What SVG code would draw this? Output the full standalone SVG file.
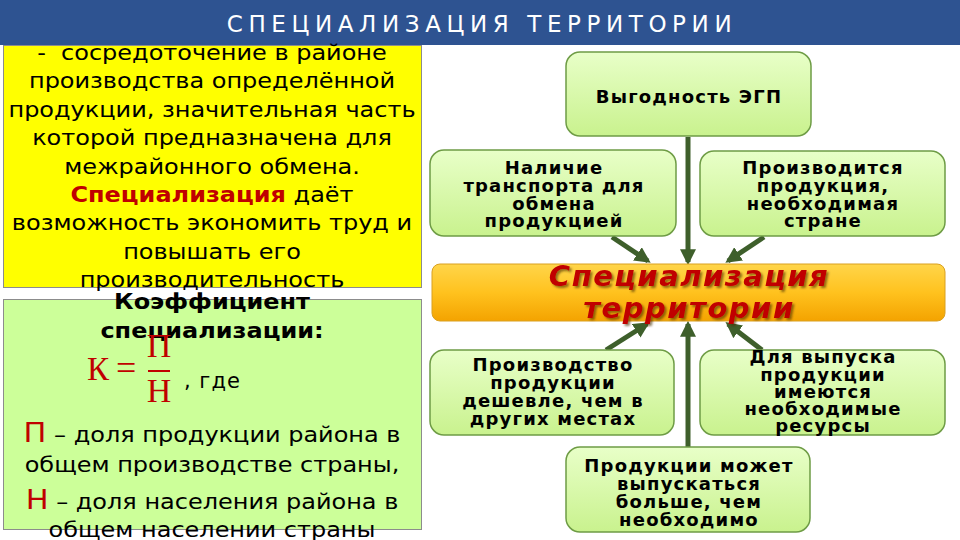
<svg xmlns="http://www.w3.org/2000/svg" width="960" height="540" viewBox="0 0 960 540">
<defs>
<linearGradient id="gBox" x1="0" y1="0" x2="0" y2="1">
<stop offset="0" stop-color="#E8FFC8"/>
<stop offset="1" stop-color="#C9F28E"/>
</linearGradient>
<linearGradient id="gBar" x1="0" y1="0" x2="0" y2="1">
<stop offset="0" stop-color="#FFD54A"/>
<stop offset="0.5" stop-color="#FFC21E"/>
<stop offset="1" stop-color="#F4A300"/>
</linearGradient>
<marker id="ah" viewBox="0 0 10 10" refX="8" refY="5" markerWidth="3.2" markerHeight="3.2" orient="auto" markerUnits="strokeWidth">
<path d="M0,0 L10,5 L0,10 z" fill="#3E5F2B"/>
</marker>
<filter id="sh" x="-5%" y="-20%" width="110%" height="150%">
<feDropShadow dx="2" dy="2" stdDeviation="0.8" flood-color="#4A2A00" flood-opacity="0.6"/>
</filter>
</defs>
<style>
.box{fill:url(#gBox);stroke:#6E9C45;stroke-width:1.5}
.bt{font-family:"DejaVu Sans",sans-serif;font-weight:bold;font-size:18px;letter-spacing:1.2px;fill:#000;text-anchor:middle}
.yt{font-family:"DejaVu Sans",sans-serif;font-size:20.5px;fill:#000;text-anchor:middle}
.con{stroke:#3E5F2B;stroke-width:5;fill:none;marker-end:url(#ah)}
.red{fill:#C00000}
.serif{font-family:"Liberation Serif",serif;fill:#C00000}
</style>
<rect x="0" y="0" width="960" height="540" fill="#FFFFFF"/>
<g id="header">
<rect x="0" y="0" width="960" height="45" fill="#2E5391"/>
<text x="482" y="32" font-family="DejaVu Sans, sans-serif" font-size="23" fill="#FFFFFF" text-anchor="middle" letter-spacing="5.6">СПЕЦИАЛИЗАЦИЯ ТЕРРИТОРИИ</text>
</g>
<g id="definition">
<rect x="3.5" y="45.5" width="418" height="242" fill="#FFFF00" stroke="#8C8C8C" stroke-width="1"/>
<g transform="translate(212 0) scale(1.17 1)">
<text class="yt"><tspan x="0" y="60">-&#160;&#160;сосредоточение в районе</tspan><tspan x="0" y="88.4">производства определённой</tspan><tspan x="0" y="116.8">продукции, значительная часть</tspan><tspan x="0" y="145.2">которой предназначена для</tspan><tspan x="0" y="173.6">межрайонного обмена.</tspan><tspan x="0" y="202"><tspan font-weight="bold" class="red">Специализация</tspan> даёт</tspan><tspan x="0" y="230.4">возможность экономить труд и</tspan><tspan x="0" y="258.8">повышать его</tspan><tspan x="0" y="287.2">производительность</tspan></text>
</g>
</g>
<g id="coefficient">
<rect x="3.5" y="299.5" width="418" height="230" fill="#CCFF99" stroke="#8C8C8C" stroke-width="1"/>
<g transform="translate(212 0) scale(1.17 1)">
<text class="yt" font-weight="bold"><tspan x="0" y="309">Коэффициент</tspan><tspan x="0" y="338">специализации:</tspan></text>
<text class="yt"><tspan x="0" y="442"><tspan class="red" font-size="26">П</tspan> – доля продукции района в</tspan><tspan x="0" y="472">общем производстве страны,</tspan><tspan x="0" y="509"><tspan class="red" font-size="26">Н</tspan> – доля населения района в</tspan><tspan x="0" y="537">общем населении страны</tspan></text>
</g>
<text class="serif" x="87" y="380" font-size="33">К</text>
<text class="serif" x="116" y="380" font-size="36">=</text>
<text class="serif" x="159" y="357" font-size="34" text-anchor="middle">П</text>
<line x1="148" y1="371" x2="170" y2="371" stroke="#C00000" stroke-width="2"/>
<text class="serif" x="159" y="402" font-size="34" text-anchor="middle">Н</text>
<text x="184" y="388" font-family="DejaVu Sans, sans-serif" font-size="21" letter-spacing="1" fill="#000">, где</text>
</g>
<g id="connectors">
<line class="con" x1="688" y1="137" x2="688" y2="262"/>
<line class="con" x1="612" y1="237" x2="648" y2="261"/>
<line class="con" x1="764" y1="237" x2="728" y2="261"/>
<line class="con" x1="688" y1="447" x2="688" y2="324"/>
<line class="con" x1="606" y1="350" x2="647" y2="324"/>
<line class="con" x1="762" y1="350" x2="728" y2="324"/>
</g>
<g id="egp">
<rect class="box" x="566" y="52" width="245" height="84" rx="14"/>
<text class="bt" x="689" y="103">Выгодность ЭГП</text>
</g>
<g id="transport">
<rect class="box" x="430" y="150" width="246" height="86" rx="14"/>
<text class="bt"><tspan x="554" y="174">Наличие</tspan><tspan x="554" y="192">транспорта для</tspan><tspan x="554" y="209.5">обмена</tspan><tspan x="554" y="227">продукцией</tspan></text>
</g>
<g id="needed">
<rect class="box" x="700" y="151" width="245" height="85" rx="14"/>
<text class="bt"><tspan x="823" y="174">Производится</tspan><tspan x="823" y="192">продукция,</tspan><tspan x="823" y="209.5">необходимая</tspan><tspan x="823" y="227">стране</tspan></text>
</g>
<g id="center">
<rect x="432" y="264" width="513" height="57" rx="8" fill="url(#gBar)" stroke="#D9A020" stroke-width="1"/>
<text font-family="DejaVu Sans, sans-serif" font-weight="bold" font-style="italic" font-size="29" letter-spacing="1.5" fill="#C00000" text-anchor="middle" filter="url(#sh)"><tspan x="689" y="286">Специализация</tspan><tspan x="689" y="318">территории</tspan></text>
</g>
<g id="cheaper">
<rect class="box" x="430" y="350" width="244" height="85" rx="14"/>
<text class="bt"><tspan x="553" y="371">Производство</tspan><tspan x="553" y="389">продукции</tspan><tspan x="553" y="407">дешевле, чем в</tspan><tspan x="553" y="425">других местах</tspan></text>
</g>
<g id="resources">
<rect class="box" x="700" y="350" width="245" height="85" rx="14"/>
<text class="bt"><tspan x="823" y="363">Для выпуска</tspan><tspan x="823" y="381">продукции</tspan><tspan x="823" y="397.5">имеются</tspan><tspan x="823" y="415">необходимые</tspan><tspan x="823" y="432">ресурсы</tspan></text>
</g>
<g id="more">
<rect class="box" x="566" y="447" width="244" height="85" rx="14"/>
<text class="bt"><tspan x="689" y="472">Продукции может</tspan><tspan x="689" y="490">выпускаться</tspan><tspan x="689" y="508">больше, чем</tspan><tspan x="689" y="526">необходимо</tspan></text>
</g>
</svg>
